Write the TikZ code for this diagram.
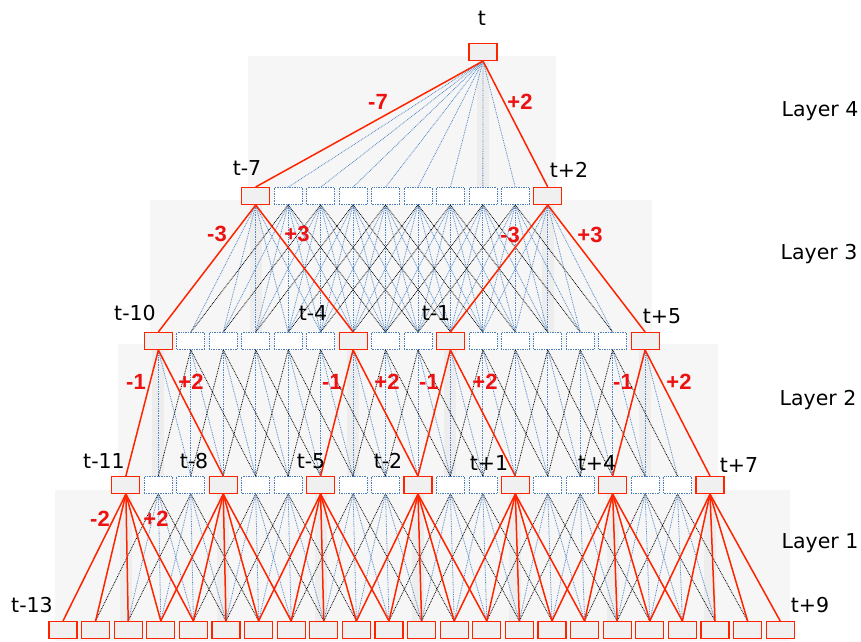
\documentclass[tikz,border=0pt]{standalone}
\usepackage{fontspec}
\setmainfont{DejaVu Sans}
\newfontfamily\weightfont{Liberation Sans}

\definecolor{pathred}{HTML}{FF2400}
\definecolor{weightred}{HTML}{EE1111}
\definecolor{unitblue}{HTML}{4B7DB6}
\definecolor{linkblue}{HTML}{5287C4}

\tikzset{
  cell/.style={draw=unitblue,densely dotted,line width=0.7pt,fill=white,
    minimum width=28pt,minimum height=17pt,inner sep=0pt},
  hotcell/.style={cell,draw=pathred,solid,line width=1.1pt,fill=gray!12},
  redlink/.style={pathred,line width=1.5pt},
  bluelink/.style={linkblue,dash pattern=on 0.8pt off 0.9pt,line width=0.8pt},
  blacklink/.style={black,dash pattern=on 0.8pt off 0.9pt,line width=0.8pt},
  steplabel/.style={inner sep=0pt,font=\fontsize{20.5}{20.5}\selectfont},
  weight/.style={inner sep=0pt,text=weightred,font=\weightfont\bfseries\fontsize{22}{22}\selectfont},
  band/.style={fill=gray!7},
  stripe/.style={fill=gray!14},
}

\begin{document}
\begin{tikzpicture}[x=1pt,y=-1pt]
  \useasboundingbox (0,0) rectangle (861,641);

  % shaded bands behind the layers
  \fill[band] (248,56) rectangle (556,200);
  \fill[band] (150,200) rectangle (652,344);
  \fill[band] (118,344) rectangle (718,490);
  \fill[band] (55,490) rectangle (790,641);
  \fill[stripe] (477,60) rectangle (489,188);
  \foreach \k in {6,15}
    \fill[stripe] (55+32.45*\k,205) rectangle (67+32.45*\k,332);
  \foreach \k in {3,9,12,18}
    \fill[stripe] (55+32.45*\k,350) rectangle (67+32.45*\k,476);
  \foreach \k in {2,5,...,20}
    \fill[stripe] (55+32.45*\k,494) rectangle (67+32.45*\k,621);

  % input row
  \foreach \k in {0,...,22}
    \node[hotcell] (a\k) at (63+32.6*\k,630) {};

  % layer 1
  \foreach \k in {3,4,6,7,9,10,12,13,15,16,18,19}
    \node[cell] (b\k) at (61+32.45*\k,485) {};
  \foreach \k in {2,5,...,20}
    \node[hotcell] (b\k) at (61+32.45*\k,485) {};

  % layer 2
  \foreach \k in {4,...,8,10,11,13,14,...,17}
    \node[cell] (c\k) at (61+32.45*\k,341) {};
  \foreach \k in {3,9,12,18}
    \node[hotcell] (c\k) at (61+32.45*\k,341) {};

  % layer 3
  \foreach \k in {7,...,14}
    \node[cell] (d\k) at (61+32.45*\k,196) {};
  \foreach \k in {6,15}
    \node[hotcell] (d\k) at (61+32.45*\k,196) {};

  % layer 4
  \node[hotcell] (top) at (483,52) {};

  % dotted links
  \foreach \k in {3,4,6,7,9,10,12,13,15,16,18,19}{
    \pgfmathtruncatemacro\l{\k-2}
    \pgfmathtruncatemacro\r{\k+2}
    \draw[blacklink] (b\k.south) -- (a\l.north);
    \draw[blacklink] (b\k.south) -- (a\r.north);
    \foreach \d in {-1,0,1}{
      \pgfmathtruncatemacro\j{\k+\d}
      \draw[bluelink] (b\k.south) -- (a\j.north);
    }
  }
  \foreach \k in {3,...,18}
    \foreach \d in {0,1}{
      \pgfmathtruncatemacro\j{\k+\d}
      \draw[bluelink] (c\k.south) -- (b\j.north);
    }
  \foreach \k in {4,...,8,10,11,13,14,...,17}{
    \pgfmathtruncatemacro\l{\k-1}
    \pgfmathtruncatemacro\r{\k+2}
    \draw[blacklink] (c\k.south) -- (b\l.north);
    \draw[blacklink] (c\k.south) -- (b\r.north);
  }
  \foreach \k in {6,...,15}
    \foreach \d in {-2,...,2}{
      \pgfmathtruncatemacro\j{\k+\d}
      \draw[bluelink] (d\k.south) -- (c\j.north);
    }
  \foreach \k in {7,...,14}{
    \pgfmathtruncatemacro\l{\k-3}
    \pgfmathtruncatemacro\r{\k+3}
    \draw[blacklink] (d\k.south) -- (c\l.north);
    \draw[blacklink] (d\k.south) -- (c\r.north);
  }
  \foreach \j in {7,...,14}
    \draw[bluelink] (top.south) -- (d\j.north);

  % red path
  \foreach \k in {2,5,...,20}
    \foreach \d in {-2,...,2}{
      \pgfmathtruncatemacro\j{\k+\d}
      \draw[redlink] (b\k.south) -- (a\j.north);
    }
  \foreach \k in {3,9,12,18}{
    \pgfmathtruncatemacro\l{\k-1}
    \pgfmathtruncatemacro\r{\k+2}
    \draw[redlink] (c\k.south) -- (b\l.north);
    \draw[redlink] (c\k.south) -- (b\r.north);
  }
  \foreach \k in {6,15}{
    \pgfmathtruncatemacro\l{\k-3}
    \pgfmathtruncatemacro\r{\k+3}
    \draw[redlink] (d\k.south) -- (c\l.north);
    \draw[redlink] (d\k.south) -- (c\r.north);
  }
  \draw[redlink] (top.south) -- (d6.north);
  \draw[redlink] (top.south) -- (d15.north);

  % time step labels
  \node[steplabel] (lt) at (482,18) {t};
  \node[steplabel] (ltm7) at (247,168) {t-7};
  \node[steplabel] (ltp2) at (569,170) {t+2};
  \node[steplabel] (ltm10) at (135,313) {t-10};
  \node[steplabel] (ltm4) at (313,313) {t-4};
  \node[steplabel] (ltm1) at (436,313) {t-1};
  \node[steplabel] (ltp5) at (662,316) {t+5};
  \node[steplabel] (ltm11) at (104,461) {t-11};
  \node[steplabel] (ltm8) at (194,461) {t-8};
  \node[steplabel] (ltm5) at (311,461) {t-5};
  \node[steplabel] (ltm2) at (388,461) {t-2};
  \node[steplabel] (ltp1) at (489,463) {t+1};
  \node[steplabel] (ltp4) at (597,463) {t+4};
  \node[steplabel] (ltp7) at (739,465) {t+7};
  \node[steplabel] (ltm13) at (32,605) {t-13};
  \node[steplabel] (ltp9) at (810,605) {t+9};

  % layer names
  \node[steplabel] (layer4) at (820,111) {Layer 4};
  \node[steplabel] (layer3) at (819,254) {Layer 3};
  \node[steplabel] (layer2) at (818,400) {Layer 2};
  \node[steplabel] (layer1) at (820,543) {Layer 1};

  % offsets on the red path
  \node[weight] (w4l) at (378,102) {-7};
  \node[weight] (w4r) at (520,102) {+2};
  \node[weight] (w3a) at (217,234) {-3};
  \node[weight] (w3b) at (297,234) {+3};
  \node[weight] (w3c) at (510,235) {-3};
  \node[weight] (w3d) at (590,235) {+3};
  \node[weight] (w2a) at (136,382) {-1};
  \node[weight] (w2b) at (191,382) {+2};
  \node[weight] (w2c) at (332,382) {-1};
  \node[weight] (w2d) at (387,382) {+2};
  \node[weight] (w2e) at (429,382) {-1};
  \node[weight] (w2f) at (485,382) {+2};
  \node[weight] (w2g) at (623,382) {-1};
  \node[weight] (w2h) at (679,382) {+2};
  \node[weight] (w1a) at (100,519) {-2};
  \node[weight] (w1b) at (156,519) {+2};
\end{tikzpicture}
\end{document}
